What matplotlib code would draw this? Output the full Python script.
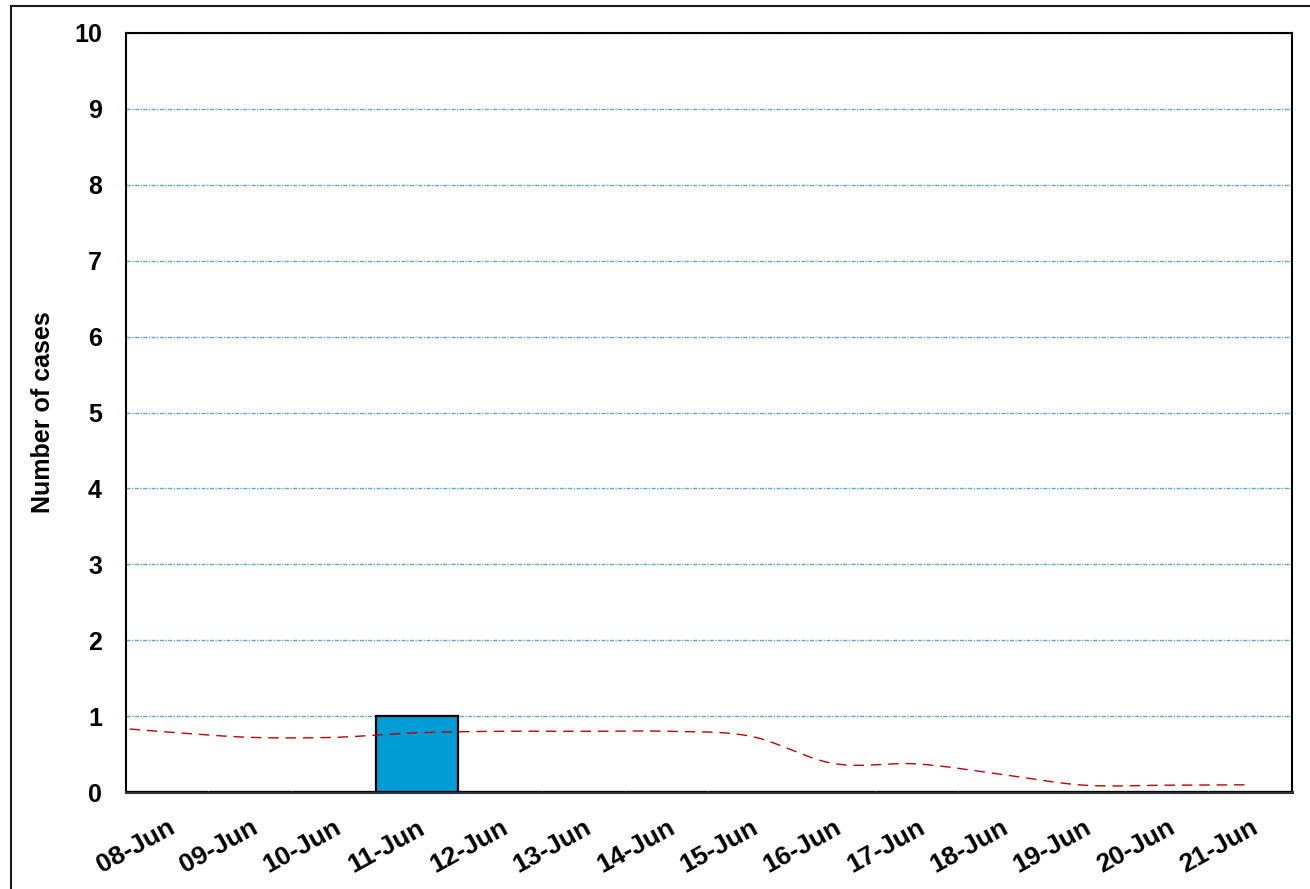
import numpy as np
import matplotlib
matplotlib.use("Agg")
import matplotlib.pyplot as plt
from matplotlib.patches import Rectangle

dates = ["08-Jun", "09-Jun", "10-Jun", "11-Jun", "12-Jun", "13-Jun", "14-Jun",
         "15-Jun", "16-Jun", "17-Jun", "18-Jun", "19-Jun", "20-Jun", "21-Jun"]
cases = [0, 0, 0, 1, 0, 0, 0, 0, 0, 0, 0, 0, 0, 0]
# trend line: value at left plot edge, then one value per date
trend_start = 0.83
trend = [0.79, 0.72, 0.72, 0.78, 0.80, 0.80, 0.80, 0.735, 0.375, 0.37, 0.235, 0.09, 0.09, 0.095]
yticks = list(range(0, 11))

plt.rcParams['font.family'] = ['Liberation Sans', 'DejaVu Sans']
plt.rcParams['font.weight'] = 'bold'

fig = plt.figure(figsize=(13.10, 8.89), dpi=100)
W, H = 1310, 889
left, right, top, bottom = 125.5, 1292, 33, 792
ax = fig.add_axes([left / W, 1 - bottom / H, (right - left) / W, (bottom - top) / H])

# outer border
fig.patches.append(Rectangle((11 / W, -0.1), 1.2, 1 - 6 / H + 0.1, transform=fig.transFigure,
                             fill=False, edgecolor='#1a1a1a', linewidth=1.5, zorder=0))

x = np.arange(len(dates))
ax.bar(x, cases, width=0.99, color='#009CD6', edgecolor='black', linewidth=1.6, zorder=3)

# smooth (Catmull-Rom) trend curve through the points
px = np.concatenate([[-0.45], x.astype(float)])
py = np.concatenate([[trend_start], trend])
pts = np.column_stack([px, py])
ext = np.vstack([pts[0], pts, pts[-1]])
curve = []
for i in range(1, len(ext) - 2):
    p0, p1, p2, p3 = ext[i - 1], ext[i], ext[i + 1], ext[i + 2]
    t = np.linspace(0, 1, 30)[:, None]
    c = 0.5 * ((2 * p1) + (-p0 + p2) * t + (2 * p0 - 5 * p1 + 4 * p2 - p3) * t ** 2
               + (-p0 + 3 * p1 - 3 * p2 + p3) * t ** 3)
    curve.append(c)
curve = np.vstack(curve)
ax.plot(curve[:, 0], curve[:, 1], color='#C00000', linewidth=1.0,
        dashes=(7.5, 5), zorder=4)

ax.set_xlim(-0.5, len(dates) - 0.5)
ax.set_ylim(0, 10)
ax.set_yticks(yticks)
ax.set_yticklabels([str(v) for v in yticks], fontsize=18, fontweight='bold')
ax.set_xticks(x)
ax.set_xticklabels(dates, fontsize=19, fontweight='bold', rotation=29,
                   ha='right', rotation_mode='anchor')
ax.tick_params(axis='both', length=0)
ax.tick_params(axis='y', pad=17)
ax.tick_params(axis='x', pad=17)

ax.yaxis.grid(True, color='#5AA8D2', linestyle=(0, (3, 1, 1, 1)), linewidth=1.0, zorder=1)
ax.set_axisbelow(True)
for s in ax.spines.values():
    s.set_color('black')
    s.set_linewidth(1.5)
ax.spines['bottom'].set_color('#333333')
ax.spines['bottom'].set_linewidth(2.2)

ax.set_ylabel("Number of cases", fontsize=18, fontweight='bold', labelpad=0)
ax.yaxis.set_label_coords(-70 / (right - left), 0.5)

fig.savefig("out.png", dpi=100)
